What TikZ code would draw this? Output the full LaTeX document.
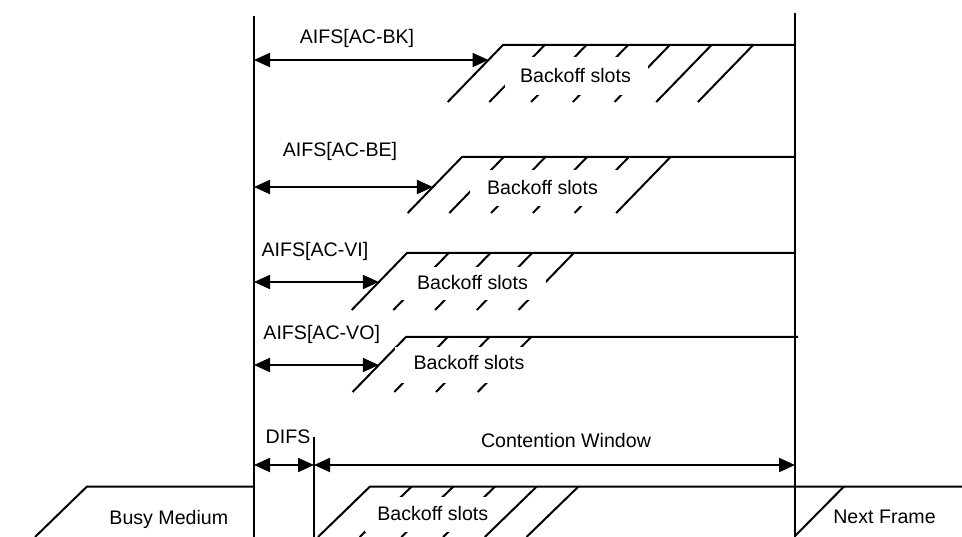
\documentclass[tikz,border=0pt]{standalone}
\usepackage{fontspec}
\setmainfont{Liberation Sans}
\usetikzlibrary{arrows.meta}
\begin{document}
\begin{tikzpicture}[x=1pt,y=-1pt,
  ln/.style={line width=2pt},
  dim/.style={line width=2pt,{Triangle[length=16pt,width=14pt]}-{Triangle[length=16pt,width=14pt]}},
  lbl/.style={font=\fontsize{19.6}{22}\selectfont, inner sep=0pt, anchor=base},
  cover/.style={fill=white}]
\useasboundingbox (0,0) rectangle (962,537);

% main vertical lines
\coordinate (L1t) at (254,16);  \coordinate (L1b) at (254,537);
\coordinate (Rt)  at (795,13);  \coordinate (Rb)  at (795,537);
\coordinate (Dt)  at (314,437); \coordinate (Db)  at (314,537);
\draw[ln] (L1t) -- (L1b);
\draw[ln] (Rt) -- (Rb);
\draw[ln] (Dt) -- (Db);

% ---------- Row AC-BK ----------
\draw[ln] (447.7,102) -- (503,45) -- (795,45);
\foreach \k in {1,...,6} \draw[ln] ({503+41.7*\k-55.3},102) -- ({503+41.7*\k},45);
\fill[cover] (505,57) rectangle (648,95);
\node[lbl] (bs1) at (575.5,83) {Backoff slots};
\node[lbl] (a1) at (357,44) {AIFS[AC-BK]};
\coordinate (a1l) at (254,60); \coordinate (a1r) at (488.5,60);
\draw[dim] (a1l) -- (a1r);

% ---------- Row AC-BE ----------
\draw[ln] (407.7,213) -- (462,157) -- (795,157);
\foreach \k in {1,...,5} \draw[ln] ({462+41.7*\k-54.3},213) -- ({462+41.7*\k},157);
\fill[cover] (470,170) rectangle (618,206.5);
\node[lbl] (bs2) at (542.5,194.3) {Backoff slots};
\node[lbl] (a2) at (340,157) {AIFS[AC-BE]};
\coordinate (a2l) at (254,187); \coordinate (a2r) at (432.9,187);
\draw[dim] (a2l) -- (a2r);

% ---------- Row AC-VI ----------
\draw[ln] (351.7,310) -- (407,253) -- (795,253);
\foreach \k in {1,...,4} \draw[ln] ({407+41.7*\k-55.3},310) -- ({407+41.7*\k},253);
\fill[cover] (398,267) rectangle (546,300);
\node[lbl] (bs3) at (472.5,290) {Backoff slots};
\node[lbl] (a3) at (315,257) {AIFS[AC-VI]};
\coordinate (a3l) at (254,282); \coordinate (a3r) at (378.9,282);
\draw[dim] (a3l) -- (a3r);

% ---------- Row AC-VO ----------
\draw[ln] (352.6,392) -- (406,337) -- (798,337);
\foreach \k in {1,...,3} \draw[ln] ({406+41.7*\k-53.4},392) -- ({406+41.7*\k},337);
\fill[cover] (395,347) rectangle (543,383);
\node[lbl] (bs4) at (469,370) {Backoff slots};
\node[lbl] (a4) at (321.7,340) {AIFS[AC-VO]};
\coordinate (a4l) at (254,365); \coordinate (a4r) at (378.8,365);
\draw[dim] (a4l) -- (a4r);

% ---------- DIFS / Contention Window ----------
\node[lbl] (difs) at (288,443.3) {DIFS};
\node[lbl] (cw) at (566,447) {Contention Window};
\coordinate (d1) at (254,465); \coordinate (d2) at (314,465); \coordinate (d3) at (795,465);
\draw[dim] (d1) -- (d2);
\draw[dim] (d2) -- (d3);

% ---------- Bottom row ----------
% Busy medium
\draw[ln] (35,537) -- (87,486.5) -- (254,486.5);
\node[lbl] (busy) at (168.8,524) {Busy Medium};
% Backoff slots
\draw[ln] (318,537) -- (370,486.5) -- (962,486.5);
\foreach \k in {1,...,5} \draw[ln] ({370+41.7*\k-52},537) -- ({370+41.7*\k},486.5);
\fill[cover] (365,497) rectangle (486,531.5);
\node[lbl] (bs5) at (432.8,520) {Backoff slots};
% Next frame
\draw[ln] (795,536) -- (844,486.5);
\node[lbl] (next) at (884.5,523) {Next Frame};
\end{tikzpicture}
\end{document}
